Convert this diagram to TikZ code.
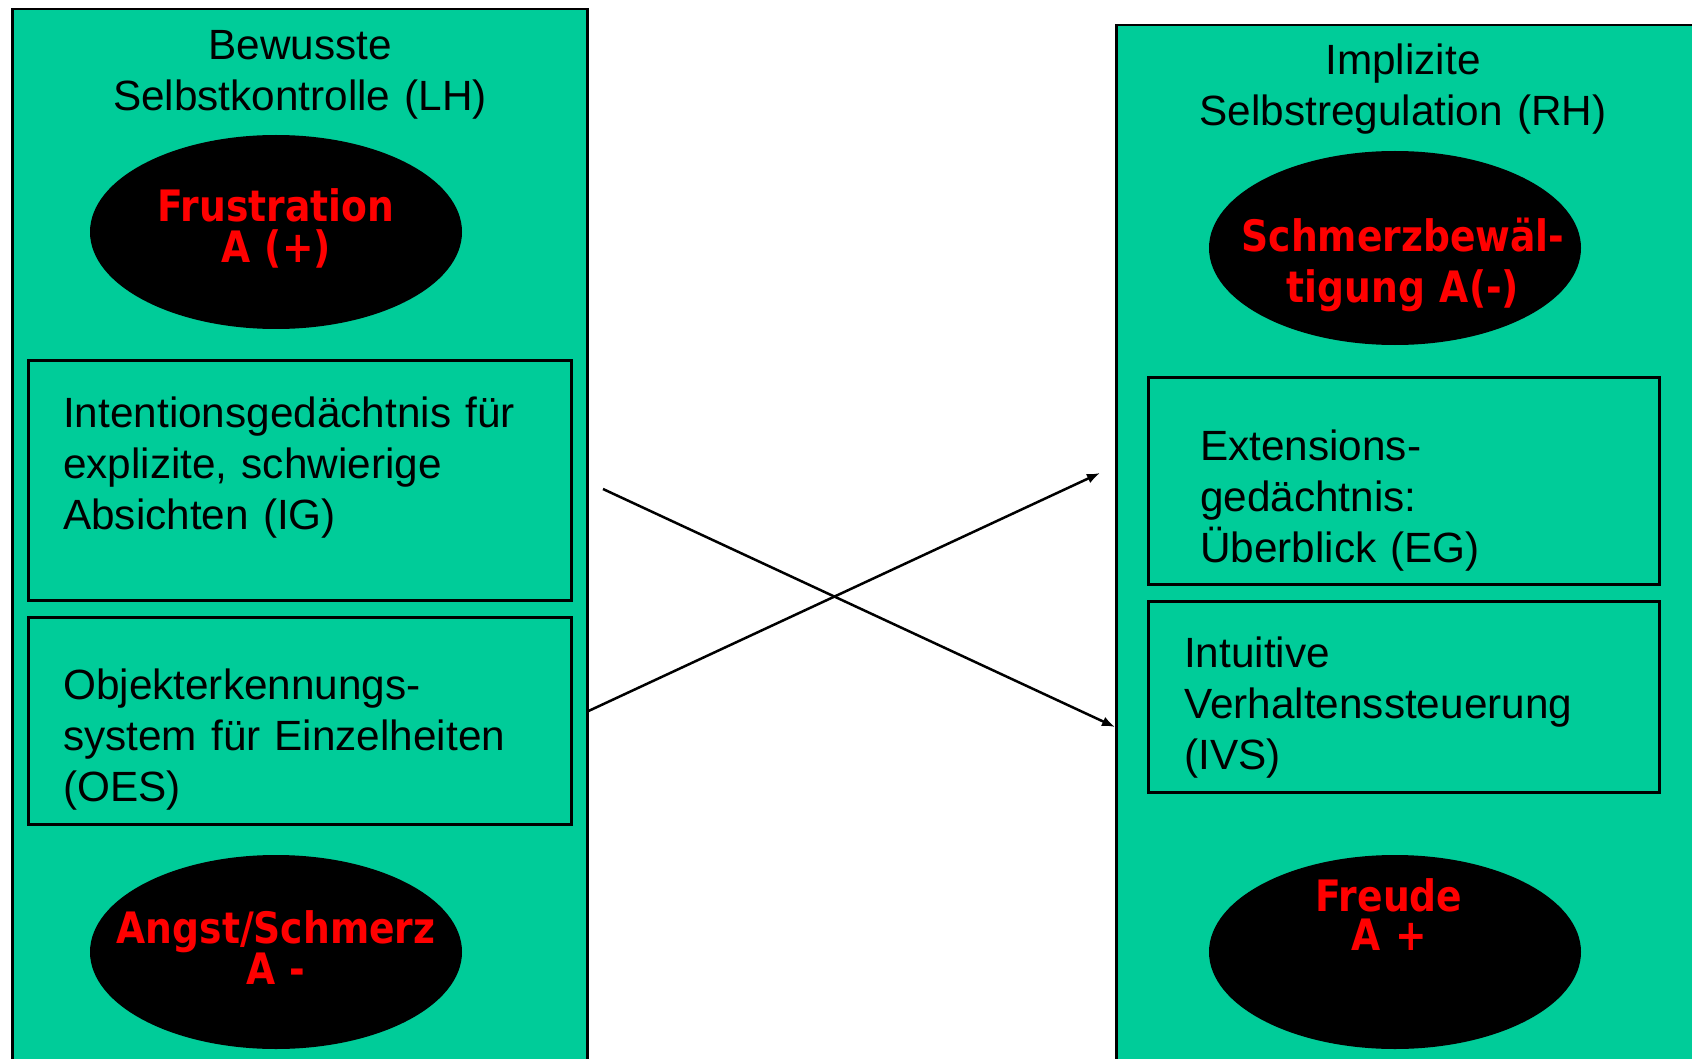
\documentclass[tikz,border=0pt]{standalone}
\usepackage{fontspec}
\setmainfont{Liberation Sans}
\newfontfamily\ellfont{DejaVu Sans}[FakeStretch=0.87]
\usetikzlibrary{arrows.meta,shapes.geometric}
\definecolor{panelgreen}{RGB}{0,204,153}
\definecolor{ellred}{RGB}{255,0,0}
\setlength{\lineskiplimit}{-100pt}
\begin{document}
\begin{tikzpicture}[x=1pt,y=-1pt,
  panel/.style={draw=black, line width=2.5pt, fill=panelgreen, rectangle, inner sep=0pt, anchor=north west},
  ibox/.style={draw=black, line width=2.5pt, rectangle, inner sep=0pt, anchor=north west},
  blob/.style={ellipse, fill=black, inner sep=0pt, minimum width=372pt, minimum height=194pt},
  headtxt/.style={font=\fontsize{42.3}{51}\selectfont, align=center, text width=600pt, anchor=base, inner sep=0pt},
  bodytxt/.style={font=\fontsize{42.3}{51}\selectfont, align=left, text width=500pt, anchor=base west, inner sep=0pt},
  blobtxt/.style={text=ellred, font=\ellfont\bfseries\fontsize{43.3}{41}\selectfont, align=center, text width=420pt, anchor=base, inner sep=0pt},
  conn/.style={line width=2.5pt, -{Latex[length=13pt,width=10pt]}}
]
\useasboundingbox (0,0) rectangle (1692,1059);
\clip (0,0) rectangle (1692,1059);
\fill[white] (0,0) rectangle (1692,1059);

% panels
\node[panel, minimum width=575pt, minimum height=1090pt] (lp) at (11,8) {};
\node[panel, minimum width=620pt, minimum height=1080pt] (rp) at (1115,24) {};

% titles
\node[headtxt] (lt) at (300,60) {Bewusste\\Selbstkontrolle (LH)};
\node[headtxt] (rt) at (1403,75) {Implizite\\Selbstregulation (RH)};

% ellipses
\node[blob] (e1) at (276,232) {};
\node[blob] (e2) at (1395,248) {};
\node[blob] (e3) at (276,952) {};
\node[blob] (e4) at (1395,952) {};
\node[blobtxt] (t1) at (276,222) {Frustration\\A (+)};
\node[blobtxt, font=\ellfont\bfseries\fontsize{43.3}{51}\selectfont] (t2) at (1403,252) {Schmerzbewäl-\\tigung A(-)};
\node[blobtxt, font=\ellfont\bfseries\fontsize{43.3}{39}\selectfont] (t3) at (276,943) {Angst/Schmerz\\A -};
\node[blobtxt, font=\ellfont\bfseries\fontsize{43.3}{39}\selectfont] (t4) at (1389,911) {Freude\\A +};

% inner boxes
\node[ibox, minimum width=543pt, minimum height=240pt] (ig) at (27,359) {};
\node[ibox, minimum width=543pt, minimum height=207pt] (oes) at (27,616) {};
\node[ibox, minimum width=511pt, minimum height=207pt] (eg) at (1147,376) {};
\node[ibox, minimum width=511pt, minimum height=191pt] (ivs) at (1147,600) {};

\node[bodytxt] (igt) at (63,427) {Intentionsgedächtnis für\\explizite, schwierige\\Absichten (IG)};
\node[bodytxt] (oest) at (63,699) {Objekterkennungs-\\system für Einzelheiten\\(OES)};
\node[bodytxt] (egt) at (1200,460) {Extensions-\\gedächtnis:\\Überblick (EG)};
\node[bodytxt] (ivst) at (1184,667) {Intuitive\\Verhaltenssteuerung\\(IVS)};

% connectors
\coordinate (a1s) at (603,489);
\path (rp.north west) ++(0,703) coordinate (a1e);
\path (lp.north east) ++(0,703) coordinate (a2s);
\coordinate (a2e) at (1100,473);
\draw[conn] (a1s) -- (a1e);
\draw[conn] (a2s) -- (a2e);
\end{tikzpicture}
\end{document}
